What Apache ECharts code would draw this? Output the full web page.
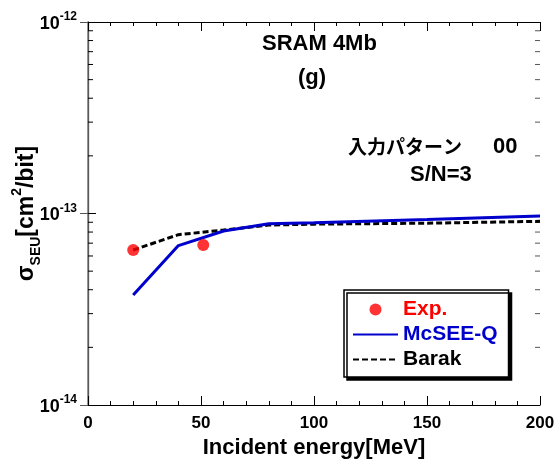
<!DOCTYPE html>
<html>
<head>
<meta charset="utf-8">
<script src="https://cdn.jsdelivr.net/npm/echarts@6/dist/echarts.min.js"></script>
<style>
  html, body { margin: 0; padding: 0; background: #fff; }
  #chart { width: 560px; height: 463px; }
</style>
</head>
<body>
<div id="chart"></div>
<script>
// values
const expEnergy = [20, 51];
const expSigma = [6.45e-14, 6.85e-14];

const mcseeEnergy = [20, 40, 60, 80, 100, 150, 200];
const mcseeSigma = [3.75e-14, 6.8e-14, 8.1e-14, 8.85e-14, 8.95e-14, 9.3e-14, 9.7e-14];

const barakEnergy = [20, 40, 60, 80, 100, 150, 200];
const barakSigma = [6.45e-14, 7.75e-14, 8.2e-14, 8.7e-14, 8.8e-14, 8.9e-14, 9.1e-14];

const xTicks = [0, 50, 100, 150, 200];
const yTicks = [1e-14, 1e-13, 1e-12];
// log ticks 2..9 in each decade
const yMinorTicks = [
  2e-14, 3e-14, 4e-14, 5e-14, 6e-14, 7e-14, 8e-14, 9e-14,
  2e-13, 3e-13, 4e-13, 5e-13, 6e-13, 7e-13, 8e-13, 9e-13
];

const font = '"Liberation Sans", Arial, sans-serif';
const jpFont = '"Noto Sans CJK JP", sans-serif';

function pairs(xs, ys) {
  return xs.map((x, i) => [x, ys[i]]);
}

// short inward ticks on the left and right frame at the given y values
function tickSeries(values, len) {
  return {
    type: 'custom',
    silent: true,
    clip: false,
    data: values.map(v => [xTicks[0], v]),
    renderItem: (params, api) => {
      const l = api.coord([xTicks[0], api.value(1)]);
      const r = api.coord([xTicks[xTicks.length - 1], api.value(1)]);
      return {
        type: 'group',
        children: [
          { type: 'line', shape: { x1: l[0], y1: l[1], x2: l[0] + len, y2: l[1] }, style: { stroke: '#000', lineWidth: 1 } },
          { type: 'line', shape: { x1: r[0], y1: r[1], x2: r[0] - len, y2: r[1] }, style: { stroke: '#555', lineWidth: 1 } }
        ]
      };
    },
    z: 1
  };
}

const chart = echarts.init(document.getElementById('chart'));

chart.setOption({
  animation: false,
  textStyle: { fontFamily: font },
  grid: { left: 88, right: 20, top: 22, bottom: 58, containLabel: false, outerBoundsMode: 'none' },
  legend: {
    orient: 'vertical',
    left: 344,
    top: 290,
    padding: [9, 11, 7, 8],
    itemWidth: 45,
    itemHeight: 12,
    itemGap: 4,
    backgroundColor: '#fff',
    borderColor: '#000',
    borderWidth: 1.5,
    borderRadius: 0,
    shadowColor: '#000',
    shadowBlur: 0,
    shadowOffsetX: 3,
    shadowOffsetY: 3,
    textStyle: { fontSize: 21, fontWeight: 'bold', fontFamily: font },
    data: [
      { name: 'Exp.', icon: 'circle', itemStyle: { color: '#ff0000' }, textStyle: { color: '#ff0000' } },
      { name: 'McSEE-Q', itemStyle: { opacity: 0 }, textStyle: { color: '#0000cc' } },
      { name: 'Barak', itemStyle: { opacity: 0 }, textStyle: { color: '#000' } }
    ]
  },
  xAxis: [
    {
      type: 'value',
      min: xTicks[0],
      max: xTicks[xTicks.length - 1],
      interval: 50,
      name: 'Incident energy[MeV]',
      nameLocation: 'middle',
      nameGap: 29,
      nameTextStyle: { fontSize: 22, fontWeight: 'bold', color: '#000' },
      axisLine: { lineStyle: { color: '#000', width: 1.2 } },
      axisTick: { inside: true, length: 9, lineStyle: { color: '#000' } },
      minorTick: { show: true, splitNumber: 5, length: 4, lineStyle: { color: '#000' } },
      splitLine: { show: false },
      axisLabel: { fontSize: 17, fontWeight: 'bold', color: '#000', margin: 10 }
    },
    {
      type: 'value',
      position: 'top',
      min: xTicks[0],
      max: xTicks[xTicks.length - 1],
      interval: 50,
      axisLine: { lineStyle: { color: '#000', width: 1.2 } },
      axisTick: { inside: true, length: 9, lineStyle: { color: '#000' } },
      minorTick: { show: true, splitNumber: 5, length: 4, lineStyle: { color: '#000' } },
      splitLine: { show: false },
      axisLabel: { show: false }
    }
  ],
  yAxis: [
    {
      type: 'log',
      logBase: 10,
      min: yTicks[0],
      max: yTicks[yTicks.length - 1],
      name: '{g|σ}{sub|SEU}{g|[cm}{sup|2}{g|/bit]}',
      nameLocation: 'middle',
      nameRotate: 90,
      nameGap: 50,
      nameMoveOverlap: false,
      nameTextStyle: {
        color: '#000',
        rich: {
          g: { fontSize: 23, fontWeight: 'bold', fontFamily: font, color: '#000', verticalAlign: 'bottom', lineHeight: 28 },
          sub: { fontSize: 14, fontWeight: 'bold', fontFamily: font, color: '#000', verticalAlign: 'bottom', lineHeight: 28, padding: [0, 0, -5, 0] },
          sup: { fontSize: 14, fontWeight: 'bold', fontFamily: font, color: '#000', verticalAlign: 'top', lineHeight: 28, padding: [0, 0, 10, 0] }
        }
      },
      axisLine: { show: true, lineStyle: { color: '#000', width: 1.2 } },
      axisTick: { inside: true, length: 8, lineStyle: { color: '#000' } },
      splitLine: { show: false },
      axisLabel: {
        margin: 11,
        formatter: v => '{b|10}{s|' + Math.round(Math.log10(v)) + '}',
        rich: {
          b: { fontSize: 18, fontWeight: 'bold', fontFamily: font, color: '#000', verticalAlign: 'bottom', lineHeight: 22 },
          s: { fontSize: 12, fontWeight: 'bold', fontFamily: font, color: '#000', verticalAlign: 'top', lineHeight: 22, padding: [0, 0, 9, 0] }
        }
      }
    },
    {
      type: 'log',
      logBase: 10,
      position: 'right',
      min: yTicks[0],
      max: yTicks[yTicks.length - 1],
      axisLine: { show: true, lineStyle: { color: '#777', width: 1.5 } },
      axisTick: { show: true, inside: true, length: 8, lineStyle: { color: '#555' } },
      splitLine: { show: false },
      axisLabel: { show: false }
    }
  ],
  graphic: [
    { type: 'text', x: 262, y: 44, style: { text: 'SRAM 4Mb', font: 'bold 22px ' + font, fill: '#000', align: 'left', verticalAlign: 'middle' } },
    { type: 'text', x: 298, y: 78, style: { text: '(g)', font: 'bold 22px ' + font, fill: '#000', align: 'left', verticalAlign: 'middle' } },
    { type: 'text', x: 348, y: 147, style: { text: '入力パターン', font: 'bold 19px ' + jpFont, fill: '#000', align: 'left', verticalAlign: 'middle' } },
    { type: 'text', x: 493, y: 147, style: { text: '00', font: 'bold 22px ' + font, fill: '#000', align: 'left', verticalAlign: 'middle' } },
    { type: 'text', x: 410, y: 175, style: { text: 'S/N=3', font: 'bold 22px ' + font, fill: '#000', align: 'left', verticalAlign: 'middle' } }
  ],
  series: [
    {
      name: 'McSEE-Q',
      type: 'line',
      symbol: 'none',
      color: '#0000cc',
      lineStyle: { color: '#0000cc', width: 3 },
      data: pairs(mcseeEnergy, mcseeSigma),
      z: 3
    },
    {
      name: 'Barak',
      type: 'line',
      symbol: 'none',
      color: '#000',
      lineStyle: { color: '#000', width: 3, type: [6, 3] },
      data: pairs(barakEnergy, barakSigma),
      z: 2
    },
    {
      name: 'Exp.',
      type: 'scatter',
      symbol: 'circle',
      symbolSize: 12,
      itemStyle: { color: '#ff0000' },
      data: pairs(expEnergy, expSigma),
      z: 4
    },
    tickSeries(yMinorTicks, 5)
  ]
});
</script>
</body>
</html>
